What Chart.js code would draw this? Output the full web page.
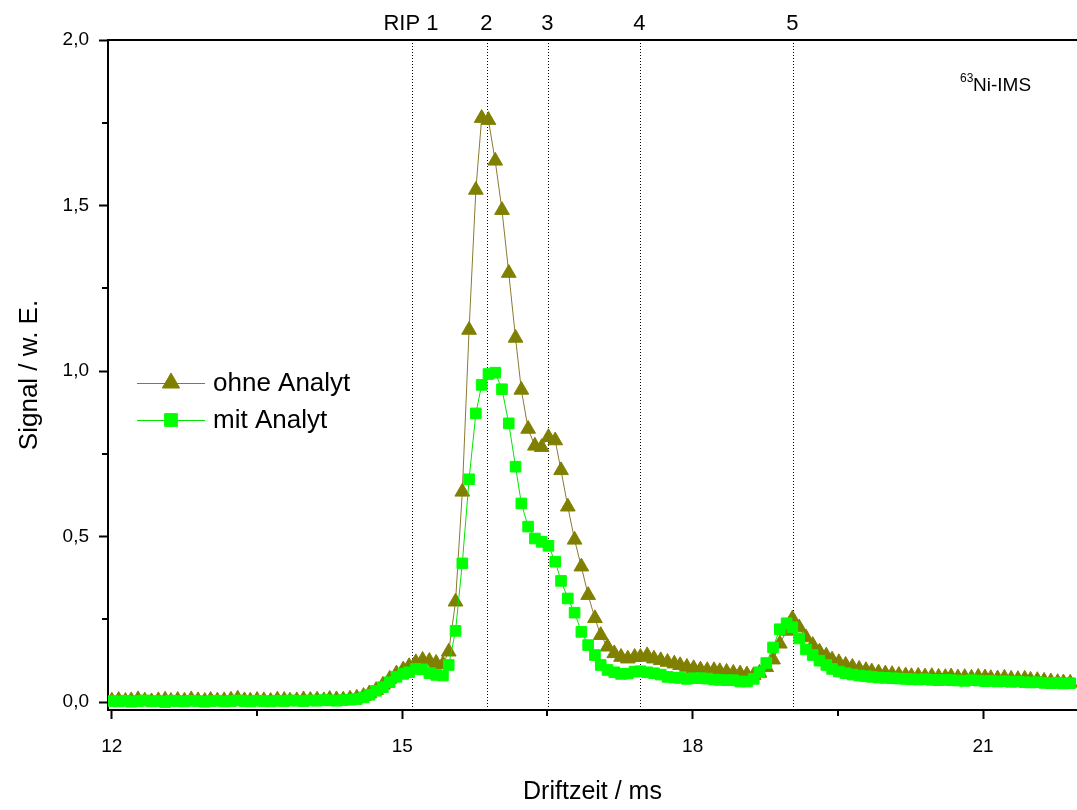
<!DOCTYPE html>
<html>
<head>
<meta charset="utf-8">
<script src="https://cdn.jsdelivr.net/npm/chart.js@4/dist/chart.umd.min.js"></script>
<style>
  body { margin: 0; background: #fff; }
  canvas { display: block; }
</style>
</head>
<body>
<canvas id="myChart" width="1077" height="810"></canvas>
<script>
// drift time grid (ms)
const driftTime = [
  12.00, 12.07, 12.14, 12.20, 12.27, 12.34, 12.41, 12.48, 12.55, 12.61,
  12.68, 12.75, 12.82, 12.89, 12.96, 13.02, 13.09, 13.16, 13.23, 13.30,
  13.37, 13.43, 13.50, 13.57, 13.64, 13.71, 13.78, 13.84, 13.91, 13.98,
  14.05, 14.12, 14.19, 14.25, 14.32, 14.39, 14.46, 14.53, 14.60, 14.66,
  14.73, 14.80, 14.87, 14.94, 15.01, 15.07, 15.14, 15.21, 15.28, 15.35,
  15.42, 15.48, 15.55, 15.62, 15.69, 15.76, 15.82, 15.89, 15.96, 16.03,
  16.10, 16.17, 16.23, 16.30, 16.37, 16.44, 16.51, 16.58, 16.64, 16.71,
  16.78, 16.85, 16.92, 16.99, 17.05, 17.12, 17.19, 17.26, 17.33, 17.40,
  17.46, 17.53, 17.60, 17.67, 17.74, 17.81, 17.87, 17.94, 18.01, 18.08,
  18.15, 18.22, 18.28, 18.35, 18.42, 18.49, 18.56, 18.63, 18.69, 18.76,
  18.83, 18.90, 18.97, 19.03, 19.10, 19.17, 19.24, 19.31, 19.38, 19.44,
  19.51, 19.58, 19.65, 19.72, 19.79, 19.85, 19.92, 19.99, 20.06, 20.13,
  20.20, 20.26, 20.33, 20.40, 20.47, 20.54, 20.61, 20.67, 20.74, 20.81,
  20.88, 20.95, 21.02, 21.08, 21.15, 21.22, 21.29, 21.36, 21.43, 21.49,
  21.56, 21.63, 21.70, 21.77, 21.83, 21.90
];

// signal without analyte
const ohneAnalyt = [
  0.004, 0.006, 0.003, 0.005, 0.008, 0.004, 0.002, 0.005, 0.007, 0.003,
  0.006, 0.004, 0.008, 0.005, 0.003, 0.006, 0.004, 0.005, 0.007, 0.010,
  0.005, 0.004, 0.006, 0.005, 0.003, 0.007, 0.006, 0.004, 0.005, 0.008,
  0.006, 0.007, 0.005, 0.009, 0.008, 0.007, 0.010, 0.013, 0.018, 0.026,
  0.036, 0.052, 0.070, 0.086, 0.098, 0.108, 0.120, 0.127, 0.124, 0.118,
  0.114, 0.152, 0.303, 0.635, 1.124, 1.547, 1.764, 1.758, 1.635, 1.486,
  1.296, 1.100, 0.943, 0.825, 0.774, 0.770, 0.800, 0.790, 0.700, 0.590,
  0.490, 0.409, 0.323, 0.253, 0.202, 0.167, 0.147, 0.136, 0.131, 0.136,
  0.136, 0.141, 0.131, 0.126, 0.121, 0.116, 0.111, 0.106, 0.102, 0.098,
  0.096, 0.096, 0.093, 0.091, 0.088, 0.086, 0.083, 0.081, 0.088, 0.105,
  0.128, 0.176, 0.215, 0.252, 0.225, 0.195, 0.172, 0.152, 0.140, 0.128,
  0.120, 0.112, 0.106, 0.100, 0.096, 0.092, 0.089, 0.086, 0.084, 0.082,
  0.080, 0.078, 0.079, 0.077, 0.078, 0.076, 0.075, 0.077, 0.074, 0.075,
  0.073, 0.076, 0.074, 0.072, 0.071, 0.073, 0.070, 0.069, 0.070, 0.067,
  0.066, 0.064, 0.062, 0.060, 0.059, 0.058
];

// signal with analyte
const mitAnalyt = [
  0.003, 0.002, 0.004, 0.001, 0.003, 0.005, 0.002, 0.003, 0.000, 0.004,
  0.003, 0.002, 0.004, 0.003, 0.001, 0.003, 0.004, 0.002, 0.003, 0.005,
  0.003, 0.002, 0.004, 0.003, 0.002, 0.004, 0.003, 0.005, 0.004, 0.003,
  0.005, 0.004, 0.006, 0.005, 0.004, 0.006, 0.007, 0.009, 0.014, 0.022,
  0.034, 0.045, 0.060, 0.076, 0.085, 0.090, 0.100, 0.099, 0.087, 0.082,
  0.080, 0.112, 0.215, 0.419, 0.673, 0.872, 0.958, 0.991, 0.995, 0.945,
  0.842, 0.711, 0.600, 0.530, 0.494, 0.484, 0.472, 0.424, 0.366, 0.313,
  0.270, 0.212, 0.172, 0.142, 0.112, 0.097, 0.090, 0.085, 0.086, 0.092,
  0.093, 0.090, 0.087, 0.083, 0.076, 0.074, 0.073, 0.070, 0.072, 0.072,
  0.071, 0.068, 0.067, 0.066, 0.066, 0.062, 0.062, 0.070, 0.090, 0.118,
  0.165, 0.220, 0.238, 0.226, 0.192, 0.159, 0.142, 0.125, 0.112, 0.100,
  0.092, 0.087, 0.083, 0.080, 0.078, 0.076, 0.074, 0.073, 0.072, 0.071,
  0.070, 0.069, 0.068, 0.069, 0.067, 0.066, 0.067, 0.066, 0.065, 0.064,
  0.066, 0.065, 0.063, 0.064, 0.062, 0.063, 0.061, 0.062, 0.060, 0.059,
  0.060, 0.058, 0.057, 0.058, 0.056, 0.057
];

// peak markers (dotted lines) and their labels
const peakTimes = [15.10, 15.88, 16.51, 17.46, 19.04];
const peakLabels = ['RIP 1', '2', '3', '4', '5'];

// tick positions
const xTicks = [12, 15, 18, 21];
const xMinorTicks = [13.5, 16.5, 19.5];
const yTicks = [0, 0.5, 1.0, 1.5, 2.0];
const yMinorTicks = [0.25, 0.75, 1.25, 1.75];

const FONT = "'Liberation Sans', Arial, sans-serif";

function toPoints(values) {
  return values.map((v, i) => ({x: driftTime[i], y: v}));
}

// dotted lines, frame, minor ticks, labels and legend
const extras = {
  id: 'extras',
  beforeDatasetsDraw(chart) {
    const {ctx, chartArea: a, scales: {x}} = chart;
    ctx.save();
    ctx.strokeStyle = '#000';
    ctx.lineWidth = 1;
    ctx.setLineDash([1, 2]);
    peakTimes.forEach(t => {
      const px = Math.round(x.getPixelForValue(t)) + 0.5;
      ctx.beginPath();
      ctx.moveTo(px, a.top);
      ctx.lineTo(px, a.bottom);
      ctx.stroke();
    });
    ctx.restore();
  },
  afterDraw(chart) {
    const {ctx, chartArea: a, scales: {x, y}} = chart;
    ctx.save();
    // top frame line
    ctx.strokeStyle = '#000';
    ctx.lineWidth = 2;
    ctx.beginPath();
    ctx.moveTo(a.left - 1, a.top);
    ctx.lineTo(a.right, a.top);
    ctx.stroke();
    // minor ticks
    xMinorTicks.forEach(t => {
      const px = Math.round(x.getPixelForValue(t));
      ctx.beginPath();
      ctx.moveTo(px, a.bottom);
      ctx.lineTo(px, a.bottom + 6);
      ctx.stroke();
    });
    yMinorTicks.forEach(t => {
      const py = Math.round(y.getPixelForValue(t));
      ctx.beginPath();
      ctx.moveTo(a.left, py);
      ctx.lineTo(a.left - 6, py);
      ctx.stroke();
    });
    // peak labels
    ctx.fillStyle = '#000';
    ctx.font = '22px ' + FONT;
    ctx.textAlign = 'center';
    ctx.textBaseline = 'alphabetic';
    peakTimes.forEach((t, i) => {
      ctx.fillText(peakLabels[i], x.getPixelForValue(t) - 1, 30);
    });
    // 63Ni-IMS
    ctx.textAlign = 'left';
    ctx.font = '12px ' + FONT;
    ctx.fillText('63', 960, 82);
    ctx.font = '19px ' + FONT;
    ctx.fillText('Ni-IMS', 973, 91);
    // legend
    const items = [
      {ds: chart.data.datasets[1], y: 383, r: 10},
      {ds: chart.data.datasets[0], y: 420, r: 9}
    ];
    items.forEach(it => {
      ctx.strokeStyle = it.ds.borderColor;
      ctx.lineWidth = 1;
      ctx.beginPath();
      ctx.moveTo(137, it.y + 0.5);
      ctx.lineTo(205, it.y + 0.5);
      ctx.stroke();
      ctx.fillStyle = it.ds.pointBackgroundColor;
      ctx.strokeStyle = it.ds.pointBorderColor;
      Chart.helpers.drawPoint(ctx, {pointStyle: it.ds.pointStyle, radius: it.r, rotation: 0, borderWidth: 1}, 171, it.y);
      ctx.fillStyle = '#000';
      ctx.font = '26px ' + FONT;
      ctx.textBaseline = 'middle';
      ctx.fillText(it.ds.label, 213, it.y + 1);
    });
    ctx.restore();
  }
};

const tickFont = {family: FONT, size: 19};

new Chart(document.getElementById('myChart'), {
  type: 'line',
  data: {
    datasets: [
      {
        label: 'mit Analyt',
        data: toPoints(mitAnalyt),
        borderColor: '#00e600',
        borderWidth: 1,
        pointStyle: 'rect',
        pointRadius: 7.5,
        pointBackgroundColor: '#00ff00',
        pointBorderColor: '#00ff00',
        pointBorderWidth: 1,
        order: 1
      },
      {
        label: 'ohne Analyt',
        data: toPoints(ohneAnalyt),
        borderColor: '#8a7a30',
        borderWidth: 1,
        pointStyle: 'triangle',
        pointRadius: 8.5,
        pointBackgroundColor: '#808000',
        pointBorderColor: '#808000',
        pointBorderWidth: 1,
        order: 2
      }
    ]
  },
  options: {
    responsive: false,
    animation: false,
    layout: {autoPadding: false, padding: {top: 40, right: 0, bottom: 0, left: 0}},
    plugins: {legend: {display: false}, tooltip: {enabled: false}},
    scales: {
      x: {
        type: 'linear',
        min: 11.96,
        max: 21.97,
        afterBuildTicks: s => { s.ticks = xTicks.map(v => ({value: v})); },
        afterFit: s => { s.height = 100; },
        ticks: {font: tickFont, color: '#000', padding: 16, maxRotation: 0, callback: v => String(v)},
        grid: {drawOnChartArea: false, tickLength: 9, tickWidth: 2, tickColor: '#000'},
        border: {color: '#000', width: 2},
        title: {display: true, text: 'Driftzeit / ms', color: '#000', font: {family: FONT, size: 25}, padding: {top: 0, bottom: 3}}
      },
      y: {
        min: -0.024,
        max: 2.0,
        afterBuildTicks: s => { s.ticks = yTicks.map(v => ({value: v})); },
        afterFit: s => { s.width = 108; },
        ticks: {font: tickFont, color: '#000', padding: 10, callback: v => v.toFixed(1).replace('.', ',')},
        grid: {drawOnChartArea: false, tickLength: 9, tickWidth: 2, tickColor: '#000'},
        border: {color: '#000', width: 2},
        title: {display: true, text: 'Signal / w. E.', color: '#000', font: {family: FONT, size: 26}, padding: {top: 14, bottom: 0}}
      }
    }
  },
  plugins: [extras]
});
</script>
</body>
</html>
